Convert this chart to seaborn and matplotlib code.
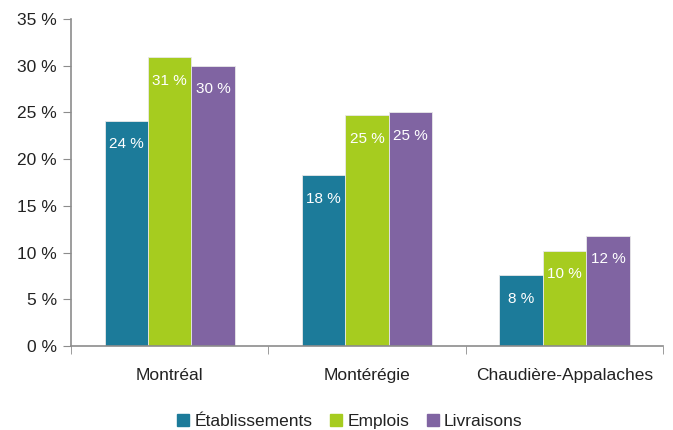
import numpy as np
import matplotlib
matplotlib.use("Agg")
import matplotlib.pyplot as plt
import pandas as pd
import seaborn as sns

regions = ["Montréal", "Montérégie", "Chaudière-Appalaches"]
series = ["Établissements", "Emplois", "Livraisons"]
etablissements = [24.1, 18.3, 7.6]
emplois = [30.9, 24.7, 10.2]
livraisons = [30.0, 25.0, 11.8]
colors = ["#1c7b9a", "#a6cc1f", "#8064a2"]

df = pd.DataFrame({
    "region": regions * 3,
    "serie": [s for s in series for _ in regions],
    "valeur": etablissements + emplois + livraisons,
})

sns.set_style("white")
plt.rcParams["font.family"] = ["Liberation Sans", "DejaVu Sans"]

fig = plt.figure(figsize=(6.73, 4.30), dpi=100)
ax = fig.add_axes([0.1055, 0.195, 0.88, 0.761])

sns.barplot(data=df, x="region", y="valeur", hue="serie", hue_order=series,
            palette=colors, width=0.66, saturation=1, ax=ax, legend=False,
            edgecolor="#e8e8e8", linewidth=0.6)

for p in ax.patches:
    h = p.get_height()
    if h > 0:
        ax.annotate(f"{round(h)} %", (p.get_x() + p.get_width() / 2, h),
                    xytext=(0, -17), textcoords="offset points",
                    ha="center", va="center", color="white", fontsize=11)

ax.set_ylim(0, 35)
ax.set_xlim(-0.5, 2.5)
ax.set_yticks(np.arange(0, 36, 5))
ax.set_yticklabels([f"{v} %" for v in range(0, 36, 5)])
ax.set_xticks([-0.5, 0.5, 1.5, 2.5], minor=True)
ax.set_xlabel("")
ax.set_ylabel("")

for s in ["top", "right"]:
    ax.spines[s].set_visible(False)
for s in ["left", "bottom"]:
    ax.spines[s].set_color("#8c8c8c")
    ax.spines[s].set_linewidth(1.2)

ax.tick_params(axis="y", left=True, length=6, color="#8c8c8c", labelsize=12.5,
               pad=4, labelcolor="#222222")
ax.tick_params(axis="x", which="major", bottom=False, labelsize=12.5, pad=12,
               labelcolor="#222222")
ax.tick_params(axis="x", which="minor", bottom=True, length=6, color="#8c8c8c")

handles = [plt.Rectangle((0, 0), 1, 1, color=c) for c in colors]
fig.legend(handles, series, loc="lower center", bbox_to_anchor=(0.52, -0.035),
           ncol=3, frameon=False, fontsize=12.5, handlelength=0.7, handleheight=0.7,
           handletextpad=0.3, columnspacing=1.0, labelcolor="#222222")

fig.savefig("out.png", dpi=100)
